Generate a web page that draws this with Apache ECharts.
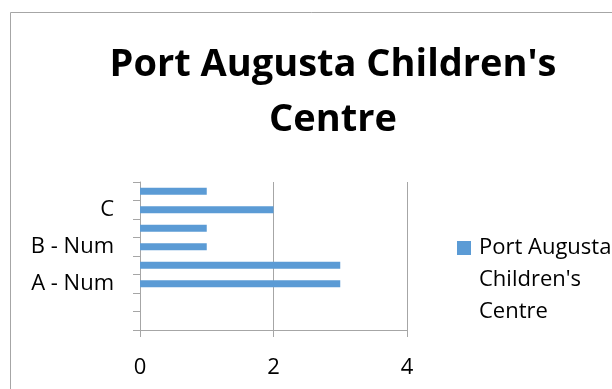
<!DOCTYPE html>
<html><head><meta charset="utf-8">
<script src="https://cdn.jsdelivr.net/npm/echarts@6/dist/echarts.min.js"></script>
<style>html,body{margin:0;padding:0;background:#fff;overflow:hidden}#c{width:612px;height:389px}</style>
</head><body><div id="c"></div>
<script>
// Categories from bottom to top (Excel skipped some labels; unknown names left blank)
const categories = ['', ' ', 'A - Num', '  ', 'B - Num', '   ', 'C', '    '];
const values = [null, null, 3, 3, 1, 1, 2, 1];
const xTicks = [0, 2, 4];
const seriesName = "Port Augusta Children's Centre";
const titleText = "Port Augusta Children's\nCentre";

const font = 'Open Sans';
const chart = echarts.init(document.getElementById('c'), null, {renderer: 'canvas'});
chart.setOption({
  animation: false,
  graphic: [{type: 'rect', shape: {x: 10.5, y: 12.5, width: 700, height: 500}, style: {fill: 'none', stroke: '#a6a6a6', lineWidth: 1}, silent: true}],
  title: {
    text: titleText, left: 328, top: 33, textAlign: 'center',
    textStyle: {fontFamily: font, fontWeight: 'bold', fontSize: 38, lineHeight: 55, color: '#000'}
  },
  legend: {
    left: 452, top: 227, itemWidth: 14, itemHeight: 78, itemGap: 0,
    icon: 'path://M0,0L14,0L14,14L0,14Z M0,78L0.01,78',
    formatter: () => "Port Augusta\nChildren's\nCentre",
    textStyle: {fontFamily: font, fontSize: 22, lineHeight: 32, color: '#000', padding: [0,0,0,3]},
    data: [seriesName]
  },
  grid: {left: 140, top: 182, width: 267, height: 148, containLabel: false},
  xAxis: {
    type: 'value', min: xTicks[0], max: xTicks[xTicks.length-1], interval: 2,
    axisLine: {show: true, lineStyle: {color: '#a6a6a6'}},
    axisTick: {show: true, length: 7, lineStyle: {color: '#a6a6a6'}},
    axisLabel: {fontFamily: font, fontSize: 22, color: '#000', margin: 27},
    splitLine: {show: true, lineStyle: {color: '#a6a6a6'}}
  },
  yAxis: {
    type: 'category', data: categories,
    axisLine: {show: true, lineStyle: {color: '#a6a6a6'}},
    axisTick: {show: true, length: 7, interval: 0, lineStyle: {color: '#a6a6a6'}},
    axisLabel: {fontFamily: font, fontSize: 22, color: '#000', margin: 26, interval: 0}
  },
  series: [{
    name: seriesName, type: 'bar', data: values, barWidth: 7,
    itemStyle: {color: '#5b9bd5'}
  }]
});
</script></body></html>
